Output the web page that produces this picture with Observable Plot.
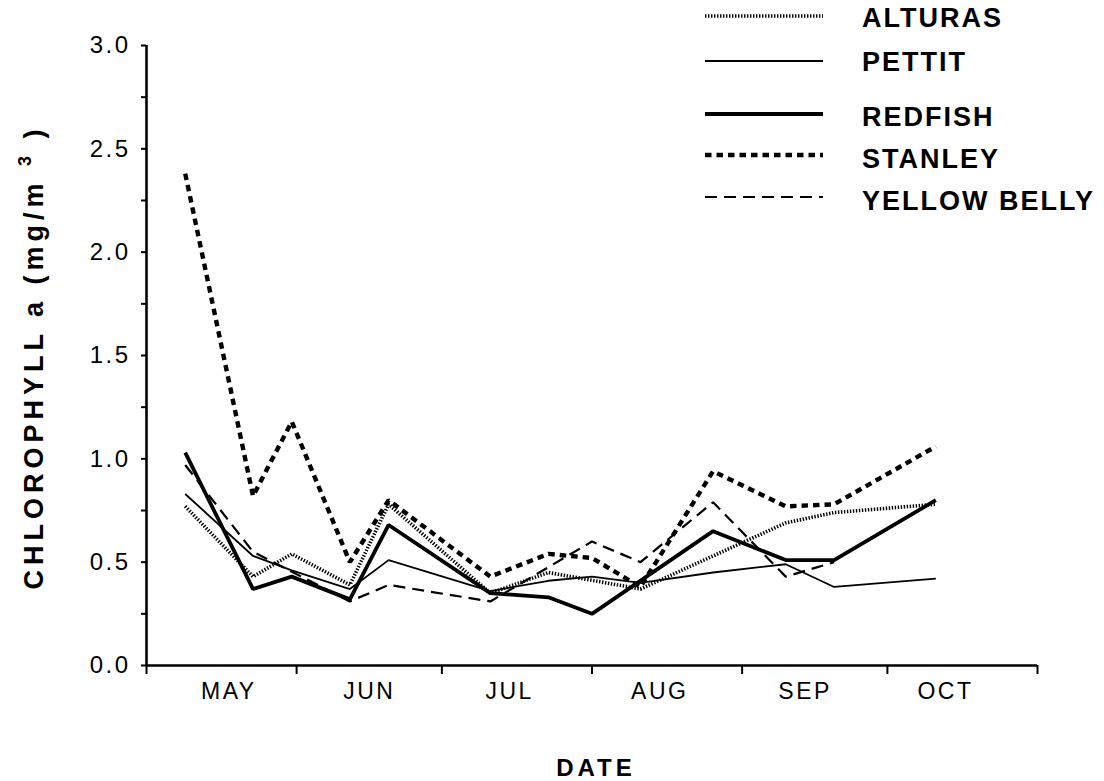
<!DOCTYPE html>
<html><head><meta charset="utf-8">
<script src="https://cdn.jsdelivr.net/npm/d3@7"></script>
<script src="https://cdn.jsdelivr.net/npm/@observablehq/plot@0.6"></script>
<style>
body{margin:0;background:#fff}
svg{font-family:"Liberation Sans",Arial,Helvetica,sans-serif}
</style>
</head><body><div id="chart"></div>
<script>
// ---- data ----
const year = "1990";
const sampleDates = ["05-09","05-23","05-31","06-12","06-20","07-11","07-23","08-01","08-11","08-26","09-10","09-20","10-11"];
const lakes = ["ALTURAS","PETTIT","REDFISH","STANLEY","YELLOW BELLY"];
const alturas     = [0.77,0.43,0.54,0.39,0.78,0.35,0.45,null,0.37,0.53,0.69,0.74,0.78];
const pettit      = [0.83,0.53,0.46,0.37,0.51,0.36,0.41,0.43,0.40,0.45,0.49,0.38,0.42];
const redfish     = [1.03,0.37,0.43,0.32,0.68,0.35,0.33,0.25,null,0.65,0.51,0.51,0.80];
const stanley     = [2.38,0.82,1.18,0.50,0.80,0.43,0.54,0.52,0.38,0.94,0.77,0.78,1.06];
const yellowBelly = [0.97,0.55,null,0.31,0.39,0.31,null,0.60,0.50,0.79,0.43,0.50,null];
const monthStarts = ["05-01","06-01","07-01","08-01","09-01","10-01","11-01"];
const monthNames = ["MAY","JUN","JUL","AUG","SEP","OCT"];
const monthLabelDates = ["05-18","06-16","07-15","08-15","09-14","10-13"];
const yMajor = [0,0.5,1,1.5,2,2.5,3];
const yMinor = [0.25,0.75,1.25,1.75,2.25,2.75];

// ---- build ----
const D = s => new Date(`${year}-${s}T00:00:00Z`);
const seriesValues = [alturas,pettit,redfish,stanley,yellowBelly];
const styles = [
  {strokeWidth:3.6, strokeDasharray:"1.4 1.6"},
  {strokeWidth:1.8},
  {strokeWidth:3.8},
  {strokeWidth:4.4, strokeDasharray:"6.5 5"},
  {strokeWidth:2.2, strokeDasharray:"12 7"}
];
const tables = seriesValues.map((vals,k) =>
  sampleDates.map((d,i)=>({date:D(d), value:vals[i], lake:lakes[k]})).filter(r=>r.value!=null));
const xmin = D(monthStarts[0]), xmax = D(monthStarts[monthStarts.length-1]);
const labels = monthNames.map((m,i)=>({date:D(monthLabelDates[i]), name:m}));

const plot = Plot.plot({
  width:1104, height:781,
  marginLeft:146, marginRight:67, marginTop:45, marginBottom:116,
  style:{fontFamily:'"Liberation Sans",Arial,sans-serif', background:"#fff", color:"#000"},
  x:{type:"utc", domain:[xmin,xmax]},
  y:{domain:[0,3]},
  marks:[
    Plot.axisY({ticks:yMajor, tickSize:5, tickPadding:11, tickFormat:d3.format(".1f"), fontSize:24, label:null, strokeWidth:2}),
    Plot.axisY({ticks:yMinor, tickSize:5, tickFormat:()=>"", label:null, strokeWidth:2}),
    Plot.axisX({ticks:monthStarts.map(D), tickSize:9, tickFormat:()=>"", label:null, strokeWidth:2}),
    Plot.ruleX([xmin], {y1:0, y2:3, strokeWidth:2.6}),
    Plot.ruleY([0], {x1:xmin, x2:xmax, strokeWidth:2.6}),
    Plot.text(labels, {x:"date", y:0, text:"name", dy:26, fontSize:23, lineAnchor:"middle", fill:"#000"}),
    ...tables.map((t,k)=>Plot.line(t, {x:"date", y:"value", stroke:"#000", strokeLinejoin:"miter", strokeLinecap:"butt", ...styles[k]}))
  ]
});
document.getElementById("chart").appendChild(plot);

// letter spacing to mimic the wide typeface
d3.select(plot).selectAll("text").style("letter-spacing","2.5px");

const svg = d3.select(plot);
// y axis title
const yt = svg.append("text")
  .attr("transform","translate(43,357) rotate(-90)")
  .attr("text-anchor","middle")
  .attr("font-size",27).attr("font-weight","bold").style("letter-spacing","5px");
yt.append("tspan").text("CHLOROPHYLL a (mg/m ");
yt.append("tspan").attr("dy",-12).attr("font-size",18).text("3");
yt.append("tspan").attr("dy",12).text(" )");
// x axis title
svg.append("text").attr("x",596).attr("y",776).attr("text-anchor","middle")
  .attr("font-size",24).attr("font-weight","bold").style("letter-spacing","4px").text("DATE");
// legend
const legLineY = [16,61,114,155,197];
const legTextY = [18,62,117,159,201];
const lg = svg.append("g");
lakes.forEach((name,k)=>{
  const s = styles[k];
  lg.append("line").attr("x1",705).attr("x2",823).attr("y1",legLineY[k]).attr("y2",legLineY[k])
    .attr("stroke","#000").attr("stroke-width",s.strokeWidth)
    .attr("stroke-dasharray",s.strokeDasharray||null);
  lg.append("text").attr("x",862).attr("y",legTextY[k]+9).attr("text-anchor","start")
    .attr("font-size",27).attr("font-weight","bold").style("letter-spacing","2px").text(name);
});
</script>
</body></html>
